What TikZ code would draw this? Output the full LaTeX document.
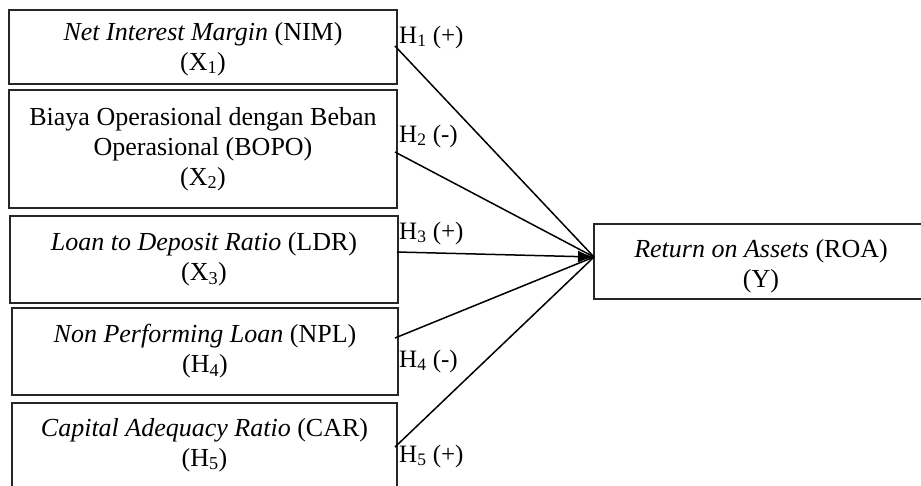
\documentclass[tikz,border=0pt]{standalone}
\usepackage{fontspec}
\setmainfont{Liberation Serif}
\usetikzlibrary{arrows.meta}
\begin{document}
\begin{tikzpicture}[x=1pt,y=-1pt,
  box/.style={draw=black!85, line width=1.4pt, rectangle, anchor=north west, align=center,
    inner sep=0pt, outer sep=0pt, font=\fontsize{26}{30}\selectfont},
  hlabel/.style={anchor=west, inner sep=1pt, font=\fontsize{25}{28}\selectfont},
  link/.style={line width=1.5pt},
  arr/.style={line width=1.5pt, -{Latex[length=16pt,width=12pt]}}]
\useasboundingbox (0,0) rectangle (921,485);
\fill[white] (0,0) rectangle (921,485);
\node[box, minimum width=388pt, minimum height=74pt] (b1) at (9,10)
  {\rule{0pt}{22pt}\textit{Net Interest Margin} (NIM)\\(X\textsubscript{1})};
\node[box, minimum width=388pt, minimum height=118pt] (b2) at (9,90)
  {Biaya Operasional dengan Beban\\Operasional (BOPO)\\(X\textsubscript{2})};
\node[box, minimum width=388pt, minimum height=87pt] (b3) at (10,216)
  {\textit{Loan to Deposit Ratio} (LDR)\\(X\textsubscript{3})};
\node[box, minimum width=386pt, minimum height=87pt] (b4) at (12,308)
  {\textit{Non Performing Loan} (NPL)\\(H\textsubscript{4})};
\node[box, minimum width=385pt, minimum height=92pt] (b5) at (12,403)
  {\textit{Capital Adequacy Ratio} (CAR)\\(H\textsubscript{5})\rule[-14pt]{0pt}{1pt}};
\node[box, minimum width=334pt, minimum height=75pt] (y) at (594,224)
  {\rule{0pt}{27pt}\textit{Return on Assets} (ROA)\\(Y)};
\coordinate (tip) at (594,257);
\coordinate (s1) at (395,46);
\coordinate (s2) at (395,152);
\coordinate (s3) at (397,252);
\coordinate (s4) at (395,338);
\coordinate (s5) at (395,447);
\draw[link] (s1) -- (tip);
\draw[link] (s2) -- (tip);
\draw[link] (s4) -- (tip);
\draw[link] (s5) -- (tip);
\draw[arr] (s3) -- (tip);
\node[hlabel] (h1) at (398,37) {H\textsubscript{1} (+)};
\node[hlabel] (h2) at (398,136) {H\textsubscript{2} (-)};
\node[hlabel] (h3) at (398,233) {H\textsubscript{3} (+)};
\node[hlabel] (h4) at (398,361) {H\textsubscript{4} (-)};
\node[hlabel] (h5) at (398,456) {H\textsubscript{5} (+)};
\end{tikzpicture}
\end{document}
